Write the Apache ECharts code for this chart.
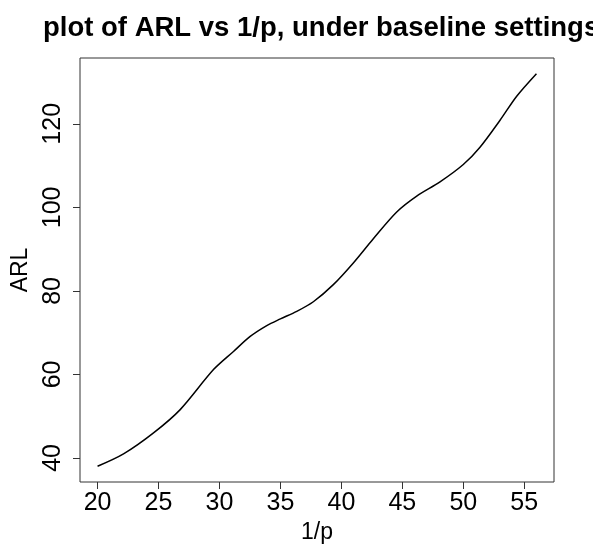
<!DOCTYPE html>
<html>
<head>
<meta charset="utf-8">
<script src="https://cdn.jsdelivr.net/npm/echarts@6/dist/echarts.min.js"></script>
<style>
html,body{margin:0;padding:0;background:#fff;}
#chart{width:593px;height:548px;}
</style>
</head>
<body>
<div id="chart"></div>
<script>
// 1/p values
var invP = [20, 22.13, 24.59, 26.78, 29.51, 31.15, 32.52, 33.88, 35, 36.34, 37.7, 39.34, 40.98, 42.62, 44.54, 46.18, 48.09, 50, 51.37, 53.0, 54.38, 56];
// ARL values
var arl = [38.0, 40.96, 45.99, 51.57, 61.15, 65.5, 69.1, 71.7, 73.3, 75.1, 77.4, 81.5, 86.7, 92.5, 98.9, 102.7, 106.1, 110.25, 114.4, 120.8, 126.6, 132.0];
var xTicks = [20, 25, 30, 35, 40, 45, 50, 55];
var yTicks = [40, 60, 80, 100, 120];
var titleText = 'plot of ARL vs 1/p, under baseline settings';
var xName = '1/p';
var yName = 'ARL';

// R-style 4% axis padding
function pad(arr){
  var mn = Math.min.apply(null, arr), mx = Math.max.apply(null, arr), r = mx - mn;
  return [mn - 0.04*r, mx + 0.04*r];
}
var xr = pad(invP), yr = pad(arl);
var pts = invP.map(function(x,i){ return [x, arl[i]]; });
var FONT = '"Liberation Sans", Arial, Helvetica, sans-serif';

var chart = echarts.init(document.getElementById('chart'), null, {renderer:'canvas'});
chart.setOption({
  animation: false,
  backgroundColor: '#ffffff',
  title: {
    text: titleText,
    left: 38, top: 9,
    textStyle: {fontFamily: FONT, fontWeight: 'bold', fontSize: 27.5, color: '#000'}
  },
  grid: {
    left: 80, right: 39, top: 58, bottom: 66,
    outerBoundsMode: 'none', containLabel: false,
    show: true, borderColor: '#333', borderWidth: 1, backgroundColor: 'transparent'
  },
  xAxis: {
    type: 'value', min: xr[0], max: xr[1],
    name: xName, nameLocation: 'middle', nameGap: 38,
    nameTextStyle: {fontFamily: FONT, fontSize: 23, color: '#000'},
    axisLine: {show: false},
    axisTick: {show: true, inside: false, length: 7, customValues: xTicks, lineStyle: {color: '#333', width: 1}},
    axisLabel: {show: true, margin: 9, customValues: xTicks, fontFamily: FONT, fontSize: 25, color: '#000'},
    splitLine: {show: false}
  },
  yAxis: {
    type: 'value', min: yr[0], max: yr[1],
    name: yName, nameLocation: 'middle', nameGap: 48, nameRotate: 90,
    nameTextStyle: {fontFamily: FONT, fontSize: 23, color: '#000'},
    axisLine: {show: false},
    axisTick: {show: true, inside: false, length: 7, customValues: yTicks, lineStyle: {color: '#333', width: 1}},
    axisLabel: {show: true, rotate: 90, margin: 14, customValues: yTicks, fontFamily: FONT, fontSize: 25, color: '#000'},
    splitLine: {show: false}
  },
  series: [{
    type: 'line',
    data: pts,
    smooth: 0.3,
    showSymbol: false,
    lineStyle: {color: '#000', width: 1.5}
  }]
});
</script>
</body>
</html>
